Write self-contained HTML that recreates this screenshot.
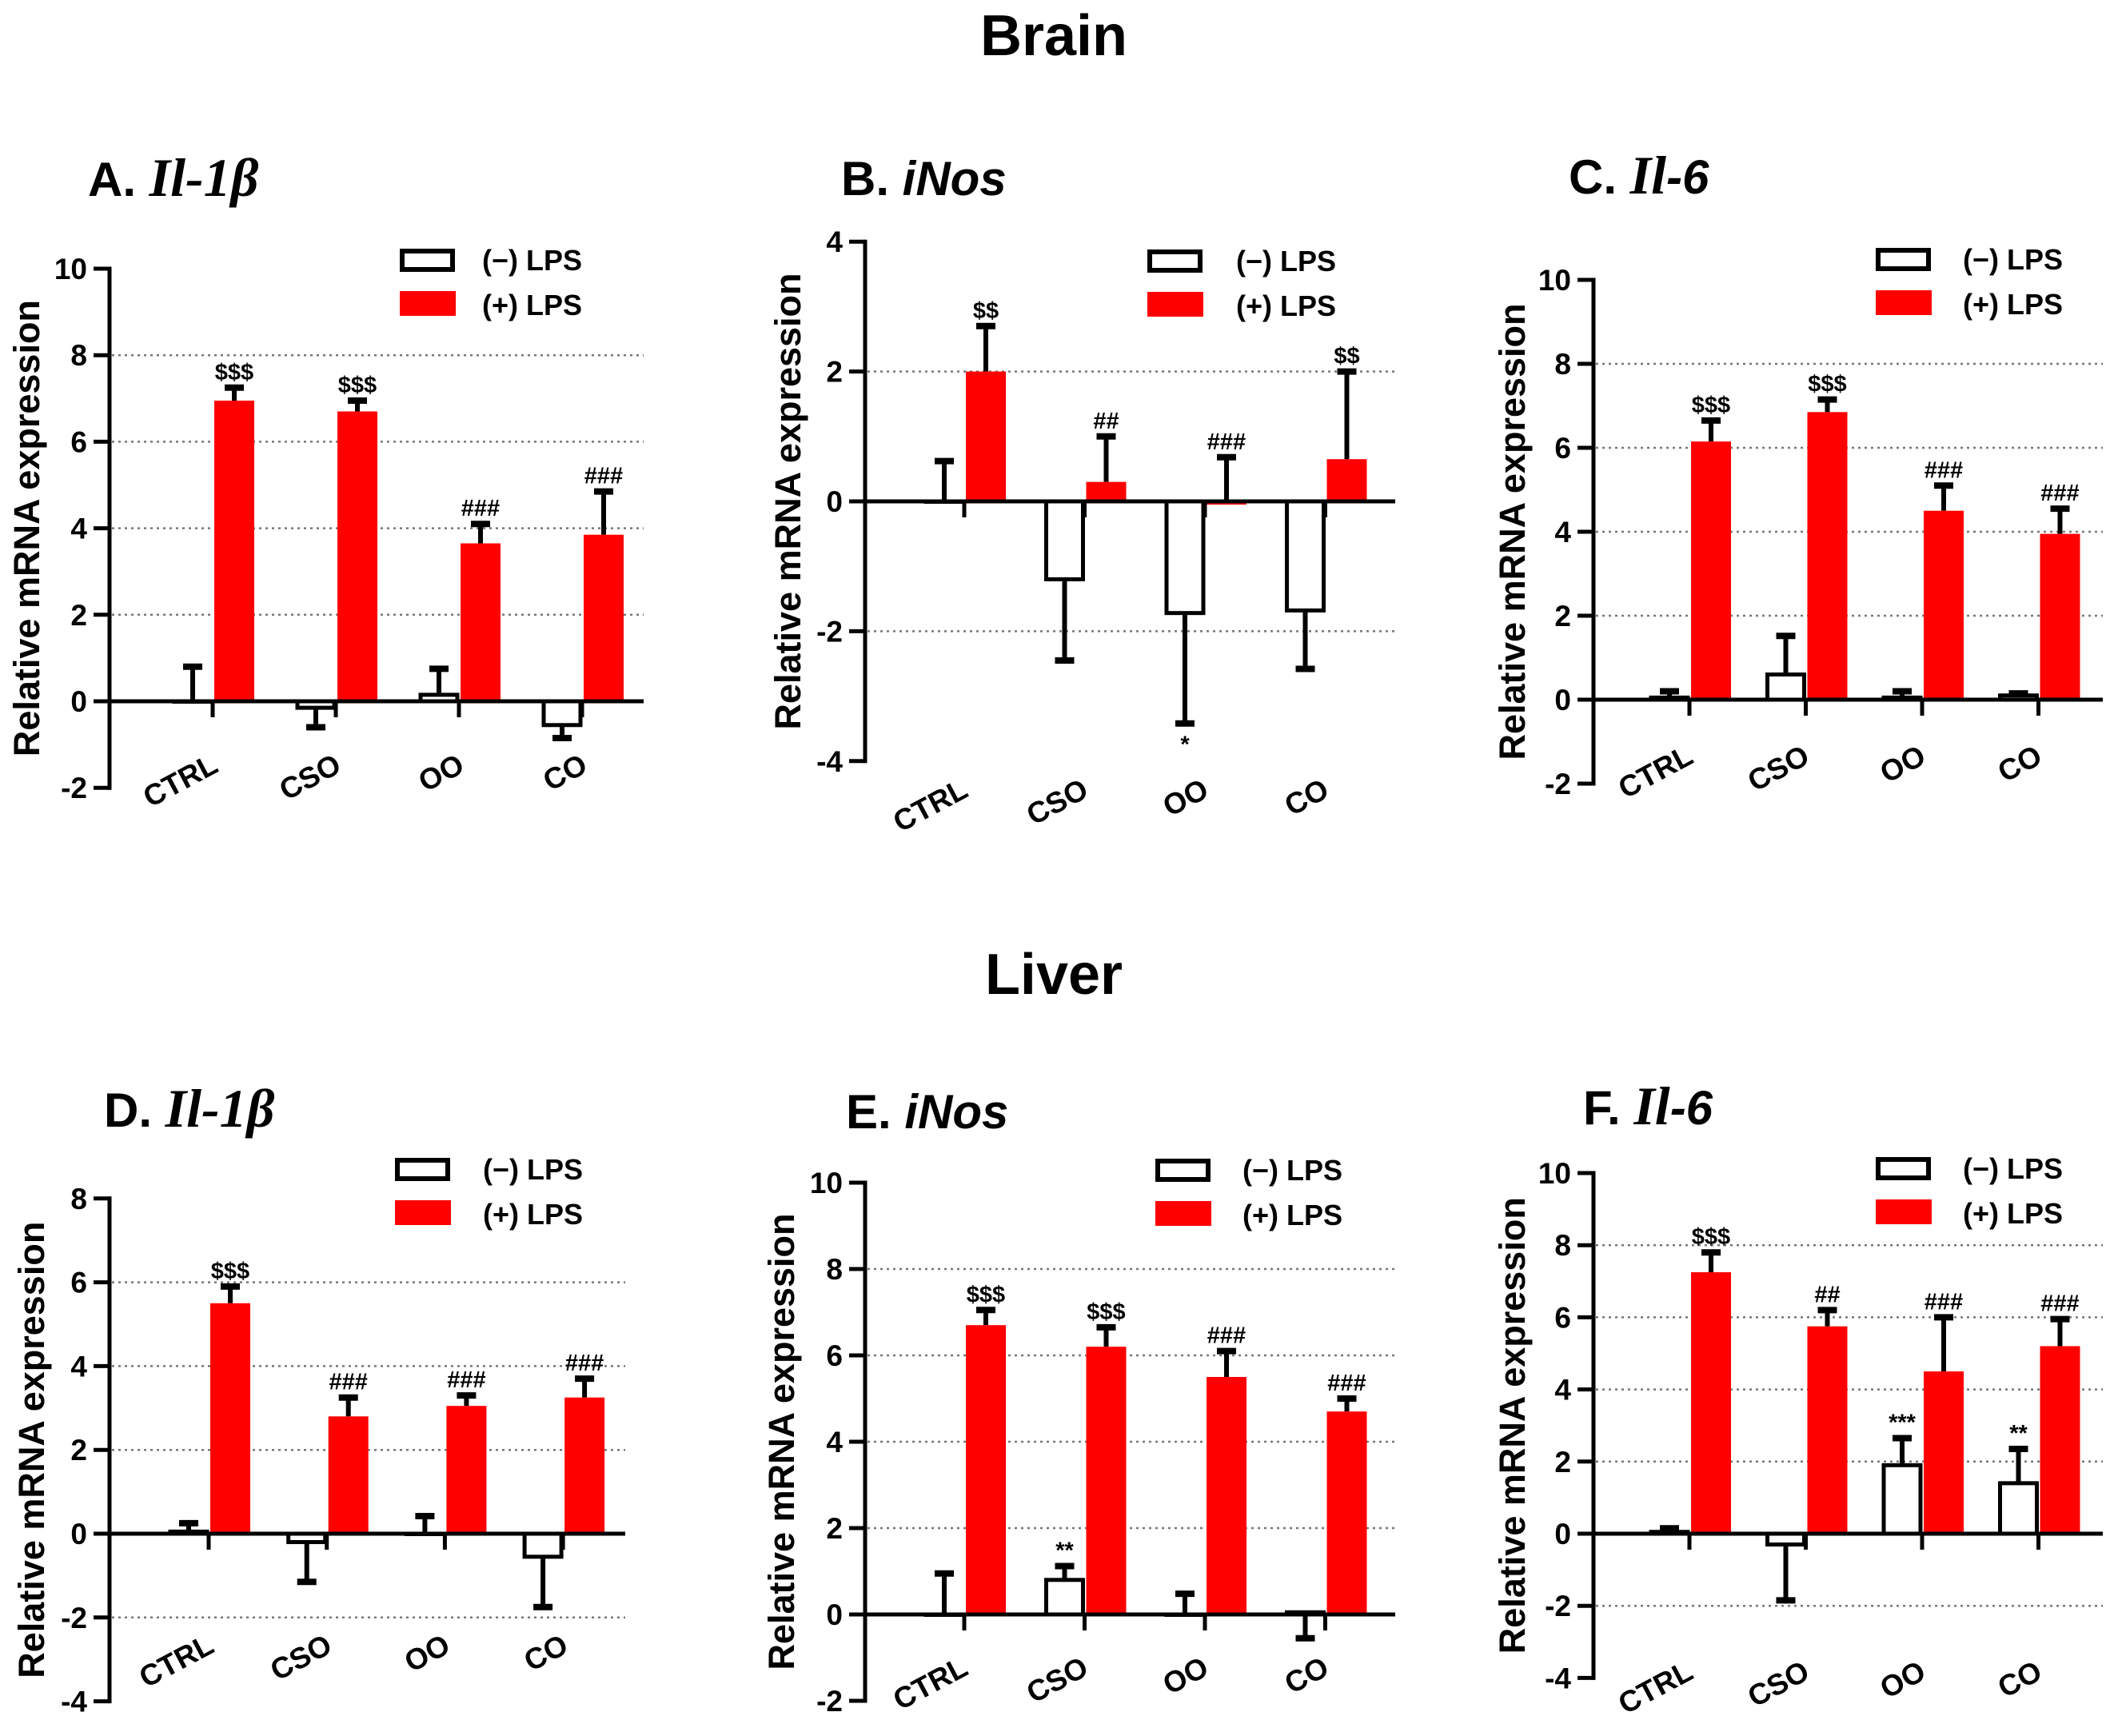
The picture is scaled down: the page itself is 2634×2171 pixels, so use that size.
<!DOCTYPE html>
<html><head><meta charset="utf-8"><style>
html,body{margin:0;padding:0;background:#fff;}
svg{display:block;}
text{font-family:"Liberation Sans",Arial,sans-serif;font-weight:bold;fill:#000;}
</style></head><body>
<svg id="fig" width="2634" height="2171" viewBox="0 0 2634 2171" xmlns="http://www.w3.org/2000/svg">
<text x="1318" y="69" font-size="72" text-anchor="middle">Brain</text>
<text x="1318" y="1243" font-size="72" text-anchor="middle">Liver</text>
</svg>
<script>
const categories = ["CTRL", "CSO", "OO", "CO"];
const legendLabels = ["(\u2212) LPS", "(+) LPS"];

const aNeg = [0, -0.15, 0.15, -0.55];
const aNegErr = [0.8, -0.45, 0.6, -0.3];
const aPos = [6.95, 6.7, 3.65, 3.85];
const aPosErr = [0.3, 0.25, 0.45, 1.0];
const aNegNote = ["", "", "", ""];
const aPosNote = ["$$$", "$$$", "###", "###"];
const aTicks = [-2, 0, 2, 4, 6, 8, 10];

const bNeg = [0, -1.2, -1.72, -1.68];
const bNegErr = [0.62, -1.25, -1.7, -0.9];
const bPos = [2.0, 0.3, -0.05, 0.65];
const bPosErr = [0.7, 0.7, 0.73, 1.35];
const bNegNote = ["", "", "*", ""];
const bPosNote = ["$$", "##", "###", "$$"];
const bTicks = [-4, -2, 0, 2, 4];

const cNeg = [0.05, 0.6, 0.05, 0.1];
const cNegErr = [0.15, 0.92, 0.15, 0.05];
const cPos = [6.15, 6.85, 4.5, 3.95];
const cPosErr = [0.5, 0.3, 0.6, 0.6];
const cNegNote = ["", "", "", ""];
const cPosNote = ["$$$", "$$$", "###", "###"];
const cTicks = [-2, 0, 2, 4, 6, 8, 10];

const dNeg = [0.05, -0.2, 0.0, -0.55];
const dNegErr = [0.2, -0.95, 0.42, -1.2];
const dPos = [5.5, 2.8, 3.05, 3.25];
const dPosErr = [0.4, 0.45, 0.25, 0.45];
const dNegNote = ["", "", "", ""];
const dPosNote = ["$$$", "###", "###", "###"];
const dTicks = [-4, -2, 0, 2, 4, 6, 8];

const eNeg = [0, 0.8, 0, 0.05];
const eNegErr = [0.95, 0.32, 0.48, -0.6];
const ePos = [6.7, 6.2, 5.5, 4.7];
const ePosErr = [0.35, 0.45, 0.6, 0.3];
const eNegNote = ["", "**", "", ""];
const ePosNote = ["$$$", "$$$", "###", "###"];
const eTicks = [-2, 0, 2, 4, 6, 8, 10];

const fNeg = [0.05, -0.3, 1.9, 1.4];
const fNegErr = [0.1, -1.55, 0.75, 0.95];
const fPos = [7.25, 5.75, 4.5, 5.2];
const fPosErr = [0.55, 0.45, 1.5, 0.75];
const fNegNote = ["", "", "***", "**"];
const fPosNote = ["$$$", "##", "###", "###"];
const fTicks = [-4, -2, 0, 2, 4, 6, 8, 10];

const NS = "http://www.w3.org/2000/svg";
const svg = document.getElementById("fig");
function mk(tag, attrs, parent, txt) {
  const e = document.createElementNS(NS, tag);
  for (const k in attrs) e.setAttribute(k, attrs[k]);
  if (txt !== undefined) e.textContent = txt;
  (parent || svg).appendChild(e);
  return e;
}

const panels = [
  {id:"a", letter:"A.", gene:"Il-1\u03b2", style:"serif", ticks:aTicks, neg:aNeg, negErr:aNegErr, pos:aPos, posErr:aPosErr, negNote:aNegNote, posNote:aPosNote,
   ax:137, y0:877, ppu:54.1, g0:266, gs:154, end:805, lx:500, ly:311, tx:603, ttx:110, tty:245, lbx:9, lby:964, ytx:33},
  {id:"b", letter:"B.", gene:"iNos", style:"sans", ticks:bTicks, neg:bNeg, negErr:bNegErr, pos:bPos, posErr:bPosErr, negNote:bNegNote, posNote:bPosNote,
   ax:1082, y0:627, ppu:81.2, g0:1206, gs:150.5, end:1745, lx:1435, ly:312, tx:1546, ttx:1052, tty:244, lbx:7, lby:995, ytx:985},
  {id:"c", letter:"C.", gene:"Il-6", style:"mixed", ticks:cTicks, neg:cNeg, negErr:cNegErr, pos:cPos, posErr:cPosErr, negNote:cNegNote, posNote:cPosNote,
   ax:1993, y0:875, ppu:52.5, g0:2113, gs:145.5, end:2630, lx:2346, ly:310, tx:2455, ttx:1962, tty:242, lbx:7, lby:953, ytx:1891},
  {id:"d", letter:"D.", gene:"Il-1\u03b2", style:"serif", ticks:dTicks, neg:dNeg, negErr:dNegErr, pos:dPos, posErr:dPosErr, negNote:dNegNote, posNote:dPosNote,
   ax:137, y0:1918, ppu:52.4, g0:261, gs:147.7, end:782, lx:494, ly:1448, tx:604, ttx:130, tty:1409, lbx:9, lby:2065, ytx:39},
  {id:"e", letter:"E.", gene:"iNos", style:"sans", ticks:eTicks, neg:eNeg, negErr:eNegErr, pos:ePos, posErr:ePosErr, negNote:eNegNote, posNote:ePosNote,
   ax:1082, y0:2019, ppu:54, g0:1206, gs:150.5, end:1745, lx:1445, ly:1449, tx:1554, ttx:1058, tty:1411, lbx:7, lby:2093, ytx:977},
  {id:"f", letter:"F.", gene:"Il-6", style:"mixed", ticks:fTicks, neg:fNeg, negErr:fNegErr, pos:fPos, posErr:fPosErr, negNote:fNegNote, posNote:fPosNote,
   ax:1993, y0:1918, ppu:45.1, g0:2113, gs:145.5, end:2630, lx:2346, ly:1447, tx:2455, ttx:1980, tty:1406, lbx:7, lby:2098, ytx:1891}
];

const BW = 50;
panels.forEach(p => {
  const g = mk("g", {});
  
  
  const Y = v => p.y0 - v * p.ppu;
  const X = i => p.g0 + i * p.gs;
  const tmin = p.ticks[0], tmax = p.ticks[p.ticks.length - 1];

  const t = mk("text", {x:p.ttx, y:p.tty, "font-size":60}, g);
  
  
  mk("tspan", {}, t, p.letter + " ");
  if (p.style === "serif") {
    mk("tspan", {"font-family":"Liberation Serif, serif", "font-style":"italic", "font-size":68}, t, p.gene);
  } else if (p.style === "sans") {
    mk("tspan", {"font-style":"italic"}, t, p.gene);
  } else {
    mk("tspan", {"font-family":"Liberation Serif, serif", "font-style":"italic", "font-size":68}, t, "Il");
    mk("tspan", {"font-style":"italic"}, t, "-6");
  }

  p.ticks.forEach(v => {
    if (v === 0 || v === tmin || v === tmax) return;
    const gl = mk("line", {x1:p.ax + 3, x2:p.end, y1:Y(v), y2:Y(v), stroke:"#777", "stroke-width":2.5, "stroke-dasharray":"3 5"}, g);
    
    
  });

  const ya = mk("line", {x1:p.ax, x2:p.ax, y1:Y(tmax) - 2.5, y2:Y(tmin) + 2.5, stroke:"#000", "stroke-width":5}, g);
  
  
  p.ticks.forEach(v => {
    mk("line", {x1:p.ax - 20, x2:p.ax, y1:Y(v), y2:Y(v), stroke:"#000", "stroke-width":5}, g);
    const tl = mk("text", {x:p.ax - 28, y:Y(v) + 13, "font-size":37, "text-anchor":"end"}, g, String(v));
    
    
  });
  const ymid = (Y(tmax) + Y(tmin)) / 2;
  const yt = mk("text", {x:p.ytx, y:ymid, "font-size":45, "text-anchor":"middle", transform:`rotate(-90 ${p.ytx} ${ymid})`, dy:16}, g, "Relative mRNA expression");
  
  

  categories.forEach((c, i) => {
    const cx = X(i);
    const nv = p.neg[i];
    const ny1 = Math.min(Y(nv), Y(0)), nh = Math.abs(Y(nv) - Y(0));
    const nbc = cx - BW / 2;
    const ebN = Y(nv + p.negErr[i]);
    const el1 = mk("line", {x1:nbc, x2:nbc, y1:Y(nv), y2:ebN, stroke:"#000", "stroke-width":6}, g);
    
    
    mk("line", {x1:nbc - 12, x2:nbc + 12, y1:ebN, y2:ebN, stroke:"#000", "stroke-width":8}, g);
    const rb = mk("rect", {x:cx - BW + 2, y:ny1, width:BW - 4, height:Math.max(nh, 0.5), fill:"#fff", stroke:"#000", "stroke-width":5}, g);
    
    
    if (p.negNote[i]) {
      const up = p.negErr[i] >= 0;
      const nn = mk("text", {x:nbc, y:up ? ebN - 10 : ebN + 36, "font-size":29, "text-anchor":"middle"}, g, p.negNote[i]);
      
      
    }
    const pv = p.pos[i];
    const pbc = cx + 2 + BW / 2;
    const ebP = Y(pv + p.posErr[i]);
    const el2 = mk("line", {x1:pbc, x2:pbc, y1:Y(pv), y2:ebP, stroke:"#000", "stroke-width":6}, g);
    
    
    mk("line", {x1:pbc - 12, x2:pbc + 12, y1:ebP, y2:ebP, stroke:"#000", "stroke-width":8}, g);
    const py1 = Math.min(Y(pv), Y(0)), ph = Math.abs(Y(pv) - Y(0));
    const bb = mk("rect", {x:cx + 2, y:py1, width:BW, height:Math.max(ph, 1), fill:"#ff0000"}, g);
    
    
    if (p.posNote[i]) {
      const pn = mk("text", {x:pbc, y:ebP - 10, "font-size":29, "text-anchor":"middle"}, g, p.posNote[i]);
      
      
    }
    mk("line", {x1:cx, x2:cx, y1:Y(0), y2:Y(0) + 20, stroke:"#000", "stroke-width":5}, g);
    const lx = cx + p.lbx, ly = p.lby;
    const xl = mk("text", {x:lx, y:ly, "font-size":37, "text-anchor":"end", transform:`rotate(-28 ${lx} ${ly})`}, g, c);
    
    
  });

  const xa = mk("line", {x1:p.ax, x2:p.end, y1:Y(0), y2:Y(0), stroke:"#000", "stroke-width":5}, g);
  
  

  const lg = mk("g", {}, g);
  
  
  const lb1 = mk("rect", {x:p.lx + 3, y:p.ly + 3, width:63, height:23, fill:"#fff", stroke:"#000", "stroke-width":6}, lg);
  
  
  const lt1 = mk("text", {x:p.tx, y:p.ly + 27, "font-size":36}, lg, legendLabels[0]);
  
  
  const lb2 = mk("rect", {x:p.lx, y:p.ly + 53, width:70, height:31, fill:"#ff0000"}, lg);
  
  
  const lt2 = mk("text", {x:p.tx, y:p.ly + 83, "font-size":36}, lg, legendLabels[1]);
  
  
});
</script>
</body></html>
